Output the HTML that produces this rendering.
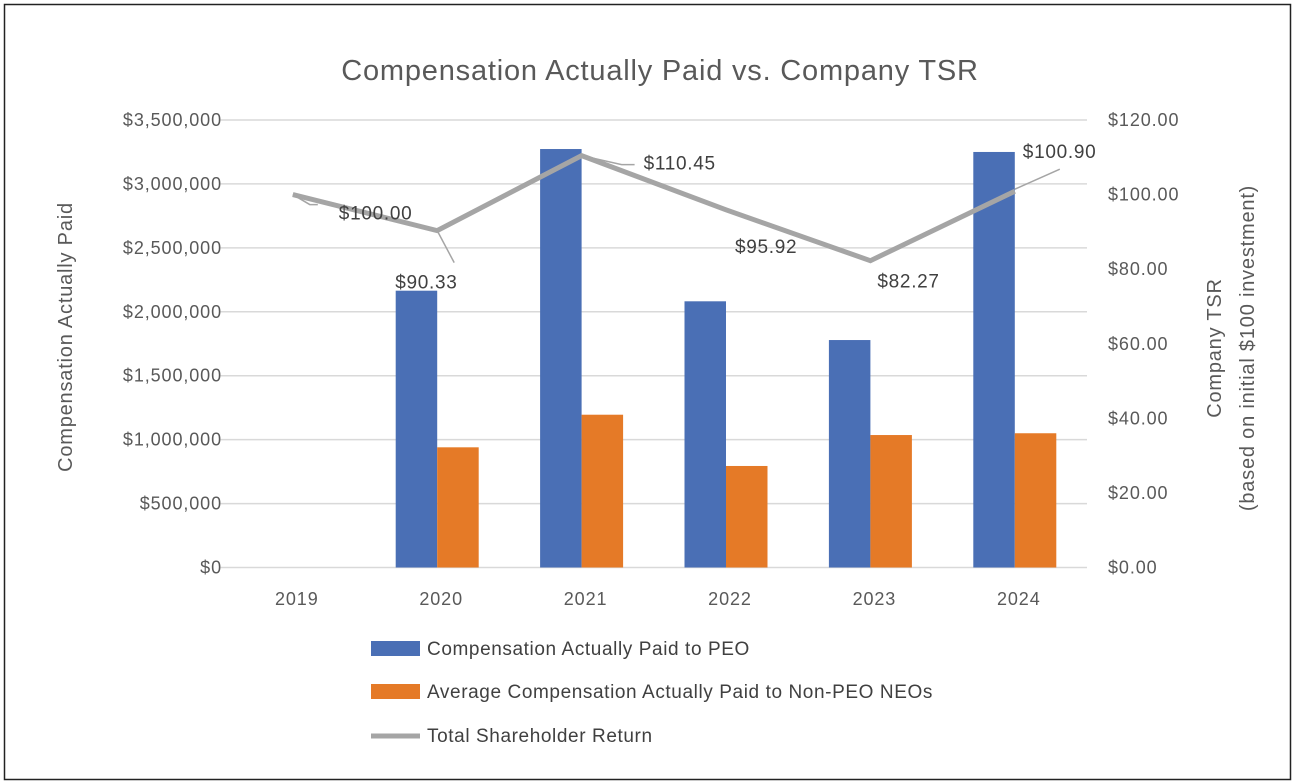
<!DOCTYPE html>
<html><head><meta charset="utf-8"><style>
html,body{margin:0;padding:0;background:#fff;}
svg{display:block;font-family:"Liberation Sans",sans-serif;}
</style></head><body>
<svg id="chart" width="1296" height="784" viewBox="0 0 1296 784">
<rect x="4.5" y="4.5" width="1286" height="775" fill="#fff" stroke="#222" stroke-width="1.5"/>
<text x="660" y="80" text-anchor="middle" font-size="29" letter-spacing="0.8" fill="#595959">Compensation  Actually Paid vs. Company TSR</text>
<g id="grid"></g><g id="bars"></g><g id="line"></g><g id="labels"></g><g id="axes"></g>
<text transform="translate(72,337) rotate(-90)" text-anchor="middle" font-size="20" letter-spacing="0.8" fill="#595959">Compensation Actually Paid</text>
<text transform="translate(1221,348) rotate(-90)" text-anchor="middle" font-size="20" letter-spacing="0.8" fill="#595959">Company TSR</text>
<text transform="translate(1254,348) rotate(-90)" text-anchor="middle" font-size="20" letter-spacing="0.8" fill="#595959">(based on initial $100 investment)</text>
<g>
<rect x="371" y="641" width="49" height="15" fill="#4a6fb5"/>
<text x="427" y="655" font-size="19" letter-spacing="0.6" fill="#404040">Compensation Actually Paid to PEO</text>
<rect x="371" y="684" width="49" height="15" fill="#e57a27"/>
<text x="427" y="698" font-size="19" letter-spacing="0.6" fill="#404040">Average Compensation Actually Paid to Non-PEO NEOs</text>
<line x1="371" y1="736" x2="420" y2="736" stroke="#a5a5a5" stroke-width="5"/>
<text x="427" y="742" font-size="19" letter-spacing="0.6" fill="#404040">Total Shareholder Return</text>
</g>
</svg>
<script>
const categories=["2019","2020","2021","2022","2023","2024"];
const peoValues=[null,2165000,3273000,2082000,1779000,3250000];
const neoValues=[null,940000,1195000,794000,1036000,1050000];
const tsrValues=[100.00,90.33,110.45,95.92,82.27,100.90];
const tsrLabels=["$100.00","$90.33","$110.45","$95.92","$82.27","$100.90"];
const leftTicks=[0,500000,1000000,1500000,2000000,2500000,3000000,3500000];
const leftTickLabels=["$0","$500,000","$1,000,000","$1,500,000","$2,000,000","$2,500,000","$3,000,000","$3,500,000"];
const rightTicks=[0,20,40,60,80,100,120];
const rightTickLabels=["$0.00","$20.00","$40.00","$60.00","$80.00","$100.00","$120.00"];

const NS="http://www.w3.org/2000/svg";
const X0=220.6,X1=1087,Y0=567.5,Y1=120;
const step=(X1-X0)/categories.length;
const xc=i=>X0+step*(i+0.5);
const yL=v=>Y0-(v/3500000)*(Y0-Y1);
const yR=v=>Y0-(v/120)*(Y0-Y1);
function mk(tag,attrs,parent,txt){const e=document.createElementNS(NS,tag);for(const k in attrs)e.setAttribute(k,attrs[k]);if(txt!==undefined)e.textContent=txt;document.getElementById(parent).appendChild(e);return e;}
const bw=41.5;
const TS={'font-size':18,'letter-spacing':0.9,fill:'#595959'};
leftTicks.forEach((t,i)=>{
  const g=mk('line',{x1:X0,x2:X1,y1:yL(t),y2:yL(t),stroke:'#d9d9d9','stroke-width':1.5},'grid');
  
  
  const l=mk('text',Object.assign({x:222,y:yL(t)+6,'text-anchor':'end'},TS),'axes',leftTickLabels[i]);
  
  
});
rightTicks.forEach((t,i)=>{
  const l=mk('text',Object.assign({x:1108,y:yR(t)+6},TS),'axes',rightTickLabels[i]);
  
  
});
categories.forEach((c,i)=>{
  const l=mk('text',Object.assign({x:xc(i)+4,y:605,'text-anchor':'middle'},TS),'axes',c);
  
  
  if(peoValues[i]!=null){
    const b=mk('rect',{x:xc(i)-bw,y:yL(peoValues[i]),width:bw,height:Y0-yL(peoValues[i]),fill:'#4a6fb5'},'bars');
    
    
  }
  if(neoValues[i]!=null){
    const b=mk('rect',{x:xc(i),y:yL(neoValues[i]),width:bw,height:Y0-yL(neoValues[i]),fill:'#e57a27'},'bars');
    
    
  }
});
const pts=tsrValues.map((v,i)=>xc(i)+','+yR(v)).join(' ');
const pl=mk('polyline',{points:pts,fill:'none',stroke:'#a5a5a5','stroke-width':5,'stroke-linejoin':'miter'},'line');


const off=[[46,25],[-42,58],[62,14],[9,43],[7,27],[8,-33]];
const leaders=[[[0,0],[17,10],[25,10]],[[0,0],[17,32]],[[0,0],[40,9],[53,9]],null,null,[[0,-2],[45,-22]]];
tsrValues.forEach((v,i)=>{
  const x=xc(i),y=yR(v);
  if(leaders[i]){
    const lp=mk('polyline',{points:leaders[i].map(p=>(x+p[0])+','+(y+p[1])).join(' '),fill:'none',stroke:'#a5a5a5','stroke-width':1.5},'labels');
    
    
  }
  const t=mk('text',{x:x+off[i][0],y:y+off[i][1],'font-size':19,'letter-spacing':0.7,fill:'#404040'},'labels',tsrLabels[i]);
  
  
});
</script>
</body></html>
